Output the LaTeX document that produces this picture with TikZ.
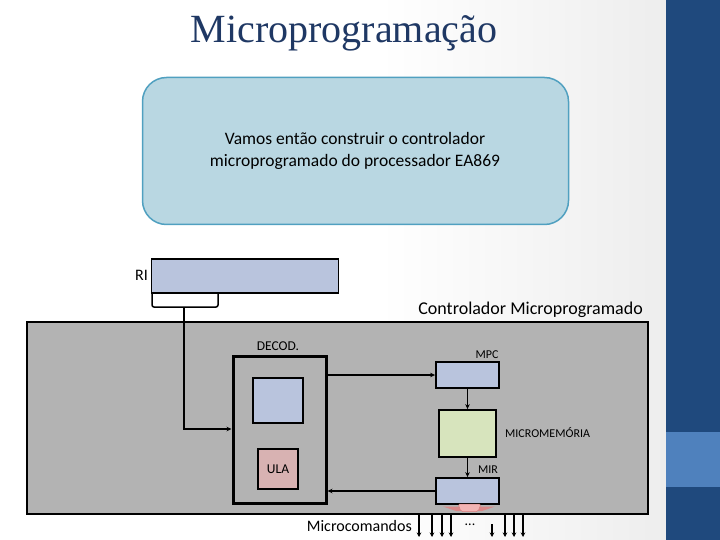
\documentclass[tikz,border=0pt]{standalone}
\usepackage{fontspec}
\setmainfont{Carlito}
\newfontfamily\titlefont{Liberation Serif}
\usetikzlibrary{arrows.meta}
\definecolor{bgblue}{RGB}{31,73,125}
\definecolor{bandblue}{RGB}{79,129,189}
\definecolor{titleblue}{RGB}{31,56,100}
\definecolor{calloutfill}{RGB}{185,215,226}
\definecolor{calloutline}{RGB}{80,160,192}
\definecolor{regfill}{RGB}{185,196,221}
\definecolor{memfill}{RGB}{215,228,189}
\definecolor{ulafill}{RGB}{216,178,178}
\definecolor{panelgray}{RGB}{179,179,179}
\definecolor{fanpink}{RGB}{242,180,180}
\definecolor{fanred}{RGB}{205,95,95}
\tikzset{
  x=1pt, y=-1pt,
  reg/.style={draw=black, line width=1.8pt, fill=regfill, inner sep=0pt},
  conn/.style={draw=black, line width=1.5pt},
  tip/.style={-{Stealth[length=5pt,width=4.5pt]}},
  lbl/.style={inner sep=0pt, font=\fontsize{12}{14}\selectfont},
}
\begin{document}
\begin{tikzpicture}
\useasboundingbox (0,0) rectangle (720,540);
% background
\fill[white] (0,0) rectangle (380,540);
\shade[left color=white, right color=white!93!black] (380,0) rectangle (666,540);
\fill[bgblue] (666,0) rectangle (720,540);
\fill[bandblue] (666,432) rectangle (720,487);
% title
\node[inner sep=0pt, text=titleblue, font=\titlefont\fontsize{40}{44}\selectfont] (title) at (344,33) {Microprogramação};
% callout
\node[draw=calloutline, line width=1.5pt, fill=calloutfill, rounded corners=24pt,
      minimum width=426pt, minimum height=147pt, inner sep=0pt] (callout) at (355.5,151) {};
\node[align=center, inner sep=0pt, font=\fontsize{17.5}{22}\selectfont] (callouttext) at (355,151)
  {Vamos então construir o controlador\\microprogramado do processador EA869};
% RI
\node[reg, minimum width=187pt, minimum height=34pt] (ri) at (245,276) {};
\node[anchor=east, inner sep=0pt, font=\fontsize{16}{18}\selectfont] (rilbl) at (148,275) {RI};
% brace
\coordinate (bl) at (152,294);
\coordinate (br) at (218,294);
\coordinate (btip) at (184,307);
\draw[line width=1.5pt, rounded corners=2pt] (bl) |- (btip) -| (br);
% controller label
\node[anchor=east, inner sep=0pt, font=\fontsize{18}{20}\selectfont] (ctrl) at (643,310) {Controlador Microprogramado};
% panel
\node[draw=black, line width=1.8pt, fill=panelgray, minimum width=621pt, minimum height=192pt, inner sep=0pt] (panel) at (337.5,418) {};
% DECOD
\node[draw=black, line width=3pt, minimum width=93pt, minimum height=147pt, inner sep=0pt] (decod) at (279.5,429.5) {};
\node[lbl, font=\fontsize{13.5}{15}\selectfont] (decodlbl) at (278,346) {DECOD.};
\node[reg, line width=1.5pt, minimum width=50pt, minimum height=45pt] (dinner) at (278,400.5) {};
\node[draw=black, line width=1.5pt, fill=ulafill, minimum width=40pt, minimum height=40pt, inner sep=0pt,
      font=\fontsize{13.5}{15}\selectfont] (ula) at (278,469) {ULA};
% MPC, micromemory, MIR
\node[reg, minimum width=63pt, minimum height=26pt] (mpc) at (467.5,375) {};
\node[lbl] (mpclbl) at (487,355) {MPC};
\node[draw=black, line width=1.8pt, fill=memfill, minimum width=57pt, minimum height=47pt, inner sep=0pt] (mem) at (467.5,433.5) {};
\node[lbl, anchor=west] (memlbl) at (505,433) {MICROMEMÓRIA};
\node[reg, minimum width=63pt, minimum height=26pt] (mir) at (467.5,491) {};
\node[lbl] (mirlbl) at (488,470) {MIR};
% fan under MIR
\fill[fanred!75!white] (443,506.5) -- (495,506.5) -- (482,511) -- (456,511) -- cycle;
\draw[fanred!80!white, fill=fanpink, line width=0.5pt, rounded corners=1.5pt]
  (458,504) -- (481,504) -- (478,511.5) -- (461,511.5) -- cycle;
% connectors
\coordinate (bend) at (184,429);
\draw[conn, tip] (btip) -- (bend) -- (decod.west |- bend);
\draw[conn, tip] (decod.east |- 0,375) -- (mpc.west);
\draw[conn, tip] (mpc.south) -- (mem.north);
\draw[conn, tip] (mem.south) -- (mir.north);
\draw[conn, tip] (mir.west) -- (decod.east |- mir.west);
% microcommands
\node[anchor=east, inner sep=0pt, font=\fontsize{16}{18}\selectfont] (mc) at (412,526) {Microcomandos};
\node[inner sep=0pt, font=\fontsize{14}{16}\selectfont] (dots) at (470,525) {...};
\foreach \xx/\yy [count=\i] in {419/514, 432/514, 442/514, 451/514, 492/524, 505/514, 514/514, 523/514} {
  \coordinate (ms\i) at (\xx,\yy);
  \coordinate (me\i) at (\xx,537);
  \draw[line width=1.2pt, -{Stealth[length=4.5pt,width=4.5pt]}] (ms\i) -- (me\i);
}
\end{tikzpicture}
\end{document}
